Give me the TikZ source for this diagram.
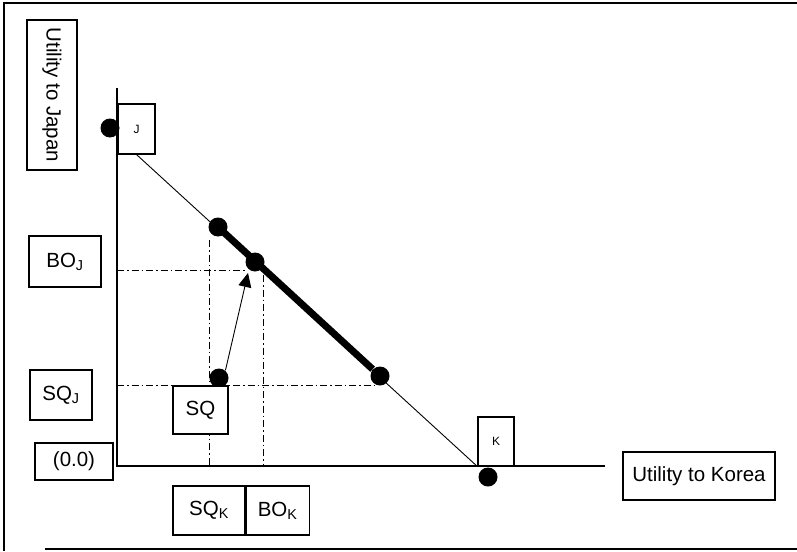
\documentclass[tikz,border=0pt]{standalone}
\usepackage{fontspec}
\setmainfont{Liberation Sans}
\usetikzlibrary{arrows.meta, positioning}

\begin{document}
\begin{tikzpicture}[
    x=1pt, y=-1pt,
    labelbox/.style={rectangle, draw=black, line width=1.1pt, inner sep=0pt, font=\fontsize{20.5}{24}\selectfont},
    smallbox/.style={labelbox, font=\fontsize{12}{14}\selectfont},
    dotnode/.style={circle, fill=black, inner sep=0pt, minimum size=19pt},
    dashdot/.style={line width=0.9pt, dash pattern=on 7pt off 3pt on 1.5pt off 3pt},
    line width=1.1pt
]
\useasboundingbox (0,0) rectangle (797,551);

% Frame
\coordinate (frameTL) at (4,3);
\coordinate (frameTR) at (797,3);
\coordinate (frameBL) at (4,551);
\coordinate (frameB1) at (45,549);
\coordinate (frameB2) at (797,549);
\draw[line width=1.4pt] (frameTR) -- (frameTL) -- (frameBL);
\draw[line width=1.4pt] (frameB1) -- (frameB2);

% Axes
\coordinate (origin) at (117,466);
\coordinate (ytop)   at (117,88);
\coordinate (xend)   at (605,466);
\draw (ytop) -- (origin) -- (xend);

% Label boxes
\node[labelbox, minimum width=50pt, minimum height=150pt] (japan)  at (52,95)      {\rotatebox{-90}{Utility to Japan}};
\node[smallbox, minimum width=37pt, minimum height=50pt]  (jbox)   at (136.5,129)  {J};
\node[smallbox, minimum width=36pt, minimum height=49pt]  (kbox)   at (496,441.5)  {K};
\node[labelbox, minimum width=72pt, minimum height=51pt]  (boj)    at (65,261.5)   {BO\textsubscript{J}};
\node[labelbox, minimum width=62pt, minimum height=50pt]  (sqj)    at (61,395)     {SQ\textsubscript{J}};
\node[labelbox, minimum width=78pt, minimum height=37pt]  (zero)   at (74,461.5)   {(0.0)};
\node[labelbox, minimum width=72pt, minimum height=49pt]  (sqk)    at (209,510.5)  {SQ\textsubscript{K}};
\node[labelbox, minimum width=63pt, minimum height=49pt]  (bok)    [right=0pt of sqk] {BO\textsubscript{K}};
\node[labelbox, minimum width=152pt, minimum height=48pt] (korea)  at (699,476)    {Utility to Korea};

% Frontier
\draw[line width=0.9pt] (jbox.south) -- (kbox.south west);

% Dots
\node[dotnode] (dotJ)  at (110,128) {};
\node[dotnode] (dotA)  at (218,227) {};
\node[dotnode] (dotBO) at (255,262) {};
\node[dotnode] (dotB)  at (380,376) {};
\node[dotnode] (dotSQ) at (219,378) {};
\node[dotnode] (dotK)  at (488,477) {};

% Bargaining range
\draw[line width=7pt] (dotA.center) -- (dotB);

% Dash-dot guides
\coordinate (boyleft)  at (117,270);
\coordinate (boyright) at (247,270);
\coordinate (sqyleft)  at (117,385);
\coordinate (sqyright) at (376,385);
\coordinate (sqxtop)   at (209,240);
\coordinate (sqxbot)   at (209,466);
\coordinate (boxtop)   at (263,275);
\coordinate (boxbot)   at (263,466);
\draw[dashdot] (boyleft) -- (boyright);
\draw[dashdot] (sqyleft) -- (sqyright);
\draw[dashdot] (sqxtop) -- (sqxbot);
\draw[dashdot] (boxtop) -- (boxbot);

% SQ box over guides
\node[labelbox, fill=white, minimum width=55pt, minimum height=48pt] (sq) at (200.5,410) {SQ};

% Move to bargaining outcome
\coordinate (arrtip) at (248,273);
\draw[line width=0.9pt, -{Triangle[length=14pt, width=13pt]}] (dotSQ.50) -- (arrtip);

\end{tikzpicture}
\end{document}
